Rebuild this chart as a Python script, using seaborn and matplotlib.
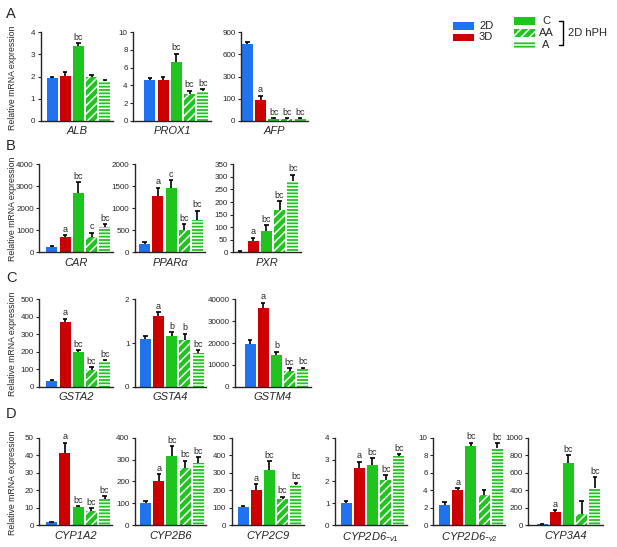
import numpy as np
import pandas as pd
import matplotlib
matplotlib.use('Agg')
import matplotlib.pyplot as plt
from matplotlib.patches import Rectangle
import seaborn as sns

sns.set_style('ticks')
plt.rcParams['font.family'] = ['Liberation Sans', 'DejaVu Sans']
plt.rcParams['mathtext.fontset'] = 'custom'
plt.rcParams['mathtext.it'] = 'Liberation Sans:italic'
plt.rcParams['mathtext.rm'] = 'Liberation Sans'
plt.rcParams['hatch.linewidth'] = 1.1

# groups: 2D, 3D culture and 2D hPH (C, AA, A)
groups = ['2D', '3D', 'C', 'AA', 'A']
colors = ['#2172ee', '#cc0000', '#1fc41f', '#1fc41f', '#1fc41f']
hatches = [None, None, None, '////', '-----']

# mean, error, significance letters per gene
alb = [1.92, 2.02, 3.37, 1.96, 1.79]
alb_err = [0.07, 0.2, 0.13, 0.13, 0.05]
alb_sig = ['', '', 'bc', '', '']

prox1 = [4.55, 4.6, 6.65, 3.05, 3.35]
prox1_err = [0.3, 0.3, 0.95, 0.35, 0.2]
prox1_sig = ['', '', 'bc', 'bc', 'bc']

afp = [735, 95, 7, 7, 6]
afp_err = [35, 30, 5, 5, 4]
afp_sig = ['', 'a', 'bc', 'bc', 'bc']

car = [220, 710, 2700, 700, 1130]
car_err = [70, 70, 500, 200, 140]
car_sig = ['', 'a', 'bc', 'c', 'bc']

ppara = [190, 1280, 1470, 505, 735]
ppara_err = [40, 190, 170, 130, 210]
ppara_sig = ['', 'a', 'c', 'bc', 'bc']

pxr = [3, 45, 85, 170, 282]
pxr_err = [3, 13, 22, 33, 27]
pxr_sig = ['', 'a', 'bc', 'bc', 'bc']

gsta2 = [30, 372, 198, 93, 145]
gsta2_err = [6, 17, 12, 20, 6]
gsta2_sig = ['', 'a', 'bc', 'bc', 'bc']

gsta4 = [1.09, 1.61, 1.15, 1.06, 0.76]
gsta4_err = [0.06, 0.1, 0.1, 0.15, 0.07]
gsta4_sig = ['', 'a', 'b', 'b', 'bc']

gstm4 = [19400, 35800, 14500, 7300, 8300]
gstm4_err = [2200, 2600, 1500, 1100, 450]
gstm4_sig = ['', 'a', 'b', 'bc', 'bc']

cyp1a2 = [1.6, 41, 10.2, 8, 14.8]
cyp1a2_err = [0.3, 6.2, 0.5, 1.8, 1.8]
cyp1a2_sig = ['', 'a', 'bc', 'bc', 'bc']

cyp2b6 = [102, 203, 316, 263, 284]
cyp2b6_err = [8, 30, 45, 32, 26]
cyp2b6_sig = ['', 'a', 'bc', 'bc', 'bc']

cyp2c9 = [101, 200, 317, 147, 229]
cyp2c9_err = [6, 33, 48, 15, 13]
cyp2c9_sig = ['', 'a', 'bc', 'bc', 'bc']

cyp2d6v1 = [0.99, 2.6, 2.75, 2.05, 3.15]
cyp2d6v1_err = [0.1, 0.3, 0.3, 0.24, 0.1]
cyp2d6v1_sig = ['', 'a', 'bc', 'bc', 'bc']

cyp2d6v2 = [2.33, 4.0, 9.05, 3.4, 8.8]
cyp2d6v2_err = [0.3, 0.2, 0.4, 0.65, 0.6]
cyp2d6v2_sig = ['', 'a', 'bc', '', 'bc']

cyp3a4 = [10, 150, 715, 125, 425]
cyp3a4_err = [5, 20, 85, 150, 125]
cyp3a4_sig = ['', 'a', 'bc', '', 'bc']

# AFP uses a segmented axis
afp_breaks = [0, 100, 300, 600, 900]

W, H = 617, 547
fig = plt.figure(figsize=(W / 100, H / 100), dpi=100)

SLOT = 13.2
XMAX = 4.6


def px_axes(spine_x, gap, top, bottom):
    width = (XMAX + gap) * SLOT
    ax = fig.add_axes([spine_x / W, 1 - bottom / H, width / W, (bottom - top) / H])
    return ax


def draw_panel(ax, label, mean, err, sig, yticks, gap):
    df = pd.DataFrame({'group': groups, 'value': mean})
    sns.barplot(data=df, x='group', y='value', hue='group', order=groups,
                hue_order=groups, palette=colors, saturation=1, width=0.83,
                errorbar=None, legend=False, ax=ax)
    for bar, h in zip(ax.patches, hatches):
        bar.set_linewidth(0)
        if h:
            bar.set_hatch(h)
            bar.set_edgecolor('white')
    x = np.arange(len(groups))
    top = np.array(mean) + np.array(err)
    ax.vlines(x, mean, top, color='black', lw=1.2, zorder=3)
    ax.hlines(top, x - 0.17, x + 0.17, color='black', lw=1.2, zorder=3)
    for xi, t, s in zip(x, top, sig):
        if s:
            ax.annotate(s, (xi, t), xytext=(0, 1), textcoords='offset points',
                        ha='center', va='bottom', fontsize=6.5)
    ax.set_xlim(-gap, XMAX)
    ax.set_ylim(yticks[0], yticks[-1])
    ax.set_yticks(yticks)
    ax.set_xticks([])
    ax.set_ylabel('')
    ax.set_xlabel(label, fontsize=8, style='italic', labelpad=4)
    ax.tick_params(axis='y', labelsize=5.8, length=2.5, width=0.8, pad=1.5)
    for sp in ['top', 'right']:
        ax.spines[sp].set_visible(False)
    for sp in ['left', 'bottom']:
        ax.spines[sp].set_linewidth(1.0)


rows = [
    (32.3, 120.7, 'A', 7, [
        (40.7, 0.86, 'ALB', alb, alb_err, alb_sig, [0, 1, 2, 3, 4]),
        (133.3, 1.26, 'PROX1', prox1, prox1_err, prox1_sig, [0, 2, 4, 6, 8, 10]),
        (241, 0.48, 'AFP', afp, afp_err, afp_sig, afp_breaks),
    ]),
    (164.3, 252.3, 'B', 139, [
        (39.3, 0.96, 'CAR', car, car_err, car_sig, [0, 1000, 2000, 3000, 4000]),
        (135, 0.73, 'PPARα', ppara, ppara_err, ppara_sig, [0, 500, 1000, 1500, 2000]),
        (233.3, 0.5, 'PXR', pxr, pxr_err, pxr_sig, [0, 50, 100, 150, 200, 250, 300, 350]),
    ]),
    (299.3, 386.7, 'C', 271, [
        (39.3, 0.96, 'GSTA2', gsta2, gsta2_err, gsta2_sig, [0, 100, 200, 300, 400, 500]),
        (135, 0.78, 'GSTA4', gsta4, gsta4_err, gsta4_sig, [0, 1, 2]),
        (235, 1.14, 'GSTM4', gstm4, gstm4_err, gstm4_sig, [0, 10000, 20000, 30000, 40000]),
    ]),
    (437.7, 525, 'D', 407, [
        (39.3, 0.94, 'CYP1A2', cyp1a2, cyp1a2_err, cyp1a2_sig, [0, 10, 20, 30, 40, 50]),
        (135, 0.8, 'CYP2B6', cyp2b6, cyp2b6_err, cyp2b6_sig, [0, 100, 200, 300, 400]),
        (231.7, 0.86, 'CYP2C9', cyp2c9, cyp2c9_err, cyp2c9_sig, [0, 100, 200, 300, 400, 500]),
        (335, 0.84, r'CYP2D6-$_{\mathit{v1}}$', cyp2d6v1, cyp2d6v1_err, cyp2d6v1_sig, [0, 1, 2, 3, 4]),
        (433.3, 0.85, r'CYP2D6-$_{\mathit{v2}}$', cyp2d6v2, cyp2d6v2_err, cyp2d6v2_sig, [0, 2, 4, 6, 8, 10]),
        (528.3, 1.04, 'CYP3A4', cyp3a4, cyp3a4_err, cyp3a4_sig, [0, 200, 400, 600, 800, 1000]),
    ]),
]

for top, bottom, letter, letter_y, panels in rows:
    for spine_x, gap, label, mean, err, sig, yticks in panels:
        ax = px_axes(spine_x, gap, top, bottom)
        if label == 'AFP':
            fwd = lambda y: np.interp(y, afp_breaks, np.arange(len(afp_breaks)))
            inv = lambda y: np.interp(y, np.arange(len(afp_breaks)), afp_breaks)
            ax.set_yscale('function', functions=(fwd, inv))
        draw_panel(ax, label, mean, err, sig, yticks, gap)
    fig.text(12.5 / W, 1 - ((top + bottom) / 2 + 1) / H, 'Relative mRNA expression',
             rotation=90, ha='center', va='center', fontsize=6.3)
    fig.text(6 / W, 1 - letter_y / H, letter, ha='left', va='top', fontsize=10.5)

# legend
lax = fig.add_axes([0, 0, 1, 1])
lax.set_xlim(0, W)
lax.set_ylim(H, 0)
lax.axis('off')
leg_y = [26, 37.5, 21, 33, 44.5]
leg_x = [453, 453, 514, 514, 514]
for i, g in enumerate(groups):
    r = Rectangle((leg_x[i], leg_y[i] - 3.8), 21, 7.6, facecolor=colors[i],
                  edgecolor='white' if hatches[i] else 'none', lw=0, hatch=hatches[i])
    lax.add_patch(r)
    if i < 2:
        lax.text(leg_x[i] + 26, leg_y[i], g, ha='left', va='center', fontsize=8)
    else:
        lax.text(546, leg_y[i], g, ha='center', va='center', fontsize=8)
lax.plot([559, 563, 563, 559], [21, 21, 44.5, 44.5], color='black', lw=1)
lax.text(568, 33, '2D hPH', ha='left', va='center', fontsize=8)

fig.savefig('out.png', dpi=100)
